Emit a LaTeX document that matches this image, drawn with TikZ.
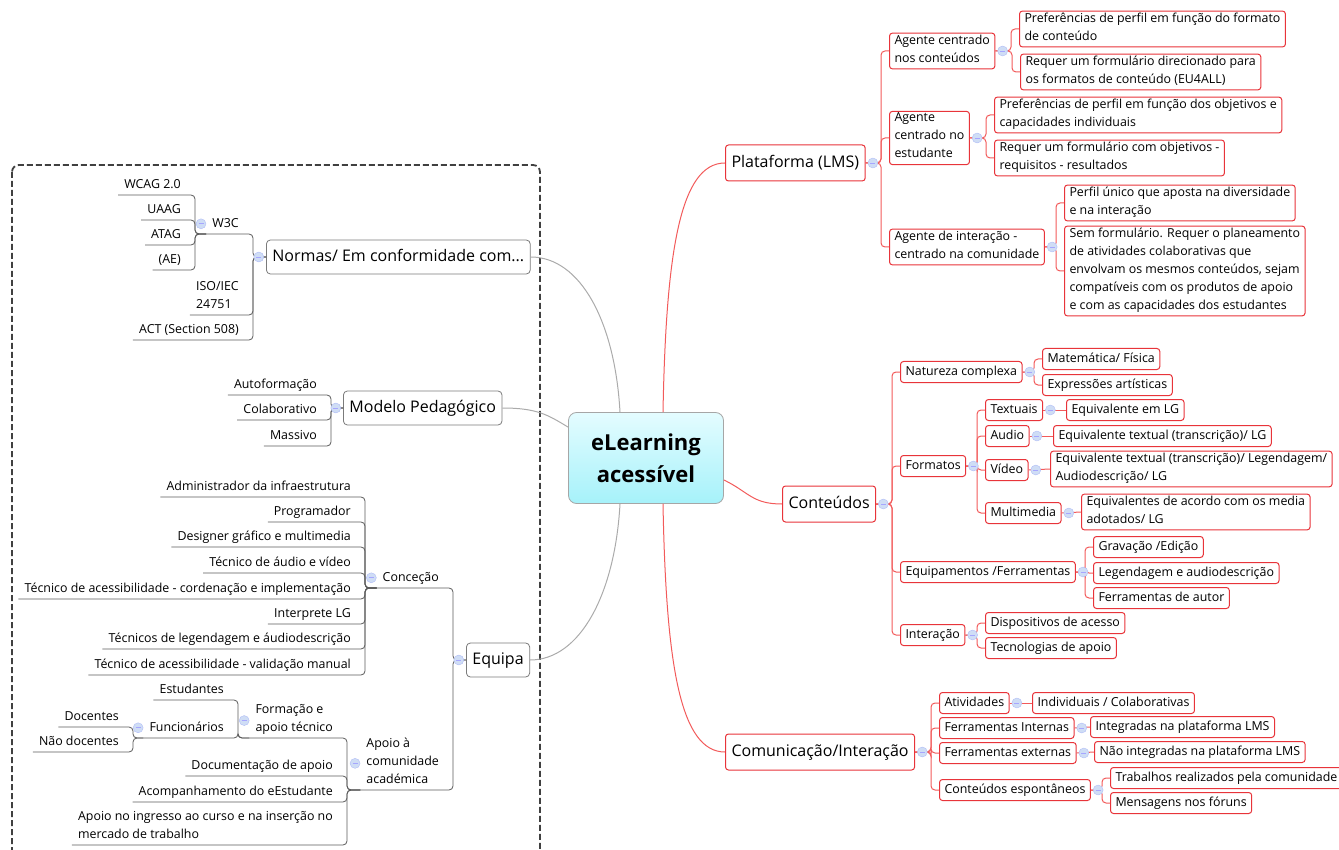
\documentclass[tikz,border=0pt]{standalone}
\usepackage{fontspec}
\setmainfont{Open Sans}
\usetikzlibrary{positioning}
\definecolor{boxred}{HTML}{E8343A}
\definecolor{linkred}{HTML}{F25A5A}
\definecolor{linegray}{HTML}{5A5A5A}
\definecolor{curvegray}{HTML}{ABABAB}
\definecolor{foldblue}{HTML}{CFDDF5}
\definecolor{coretop}{HTML}{E4FCFF}
\definecolor{corebot}{HTML}{A6F2FA}
\tikzset{
  small/.style={font=\fontsize{12.4}{18}\selectfont, execute at begin node=\strut, execute at end node=\strut},
  big/.style={font=\fontsize{16}{24}\selectfont, execute at begin node=\strut, execute at end node=\strut},
  topic/.style={small, draw=boxred, line width=1pt, rounded corners=3pt, fill=white, align=left, inner xsep=5pt, inner ysep=1.5pt, anchor=west},
  maintopic/.style={topic, big, inner xsep=6pt, inner ysep=6pt},
  ltopic/.style={big, draw=linegray!80, line width=0.8pt, rounded corners=4pt, fill=white, inner xsep=6pt, inner ysep=5pt, anchor=west},
  leaf/.style={small, align=left, inner xsep=6pt, inner ysep=1pt, anchor=south east},
  core/.style={draw=gray!70, line width=0.8pt, rounded corners=8pt, top color=coretop, bottom color=corebot, minimum width=155pt, minimum height=91pt, align=center, font=\fontsize{22}{32}\selectfont\bfseries},
  rlink/.style={draw=linkred, line width=1pt, rounded corners=4pt},
  glink/.style={draw=linegray, line width=0.8pt, rounded corners=4pt},
  gcurve/.style={draw=curvegray, line width=1pt},
  rcurve/.style={draw=linkred, line width=1pt},
  fold/.style={circle, fill=foldblue, draw=foldblue!85!blue, line width=0.4pt, minimum size=10pt, inner sep=0pt,
    path picture={\draw[blue!35, line width=0.8pt] ([xshift=-2.5pt]path picture bounding box.center) -- ([xshift=2.5pt]path picture bounding box.center);}},
}

\begin{document}
\begin{tikzpicture}[x=1pt, y=-1pt]
  \useasboundingbox (0,0) rectangle (1339,850);
  \draw[line width=1.8pt, dash pattern=on 6pt off 3pt, black!75, rounded corners=7pt] (12,165) rectangle (540,875);

  \node[core] (elearn) at (646,458) {eLearning\\acessível};

  % left side
  \node[ltopic] (normas) at (266,257) {Normas/ Em conformidade com...};
  \node[leaf] (w3c) at (245,234) {W3C};
  \node[leaf] (wcag) at (187,195) {WCAG 2.0};
  \node[leaf] (uaag) at (187,220) {UAAG};
  \node[leaf] (atag) at (187,245) {ATAG};
  \node[leaf] (ae) at (187,270) {(AE)};
  \node[leaf] (iso) at (245,315) {ISO/IEC\\24751\strut};
  \node[leaf] (act) at (245,340) {ACT (Section 508)};

  \node[ltopic] (modelo) at (343,408) {Modelo Pedagógico};
  \node[leaf] (auto) at (323,395) {Autoformação};
  \node[leaf] (colab) at (323,420) {Colaborativo};
  \node[leaf] (massivo) at (323,446) {Massivo};

  \node[ltopic] (equipa) at (466,660) {Equipa};
  \node[leaf] (concecao) at (445,588) {Conceção};
  \node[leaf] (admin) at (357,497) {Administrador da infraestrutura};
  \node[leaf] (prog) at (357,522) {Programador};
  \node[leaf] (design) at (357,547) {Designer gráfico e multimedia};
  \node[leaf] (tav) at (357,573) {Técnico de áudio e vídeo};
  \node[leaf] (tacess) at (357,599) {Técnico de acessibilidade - cordenação e implementação};
  \node[leaf] (interp) at (357,624) {Interprete LG};
  \node[leaf] (tleg) at (357,649) {Técnicos de legendagem e áudiodescrição};
  \node[leaf] (tval) at (357,675) {Técnico de acessibilidade - validação manual};
  \node[leaf] (apoio) at (445,790) {Apoio à\\comunidade\\académica\strut};
  \node[leaf] (formacao) at (339,738) {Formação e\\apoio técnico\strut};
  \node[leaf] (docap) at (339,776) {Documentação de apoio};
  \node[leaf] (acomp) at (339,802) {Acompanhamento do eEstudante};
  \node[leaf] (ingresso) at (339,845) {Apoio no ingresso ao curso e na inserção no\\mercado de trabalho\strut};
  \node[leaf] (estud) at (230,700) {Estudantes};
  \node[leaf] (func) at (230,738) {Funcionários};
  \node[leaf] (doc) at (125,727) {Docentes};
  \node[leaf] (naodoc) at (125,752) {Não docentes};

  % right side
  \node[maintopic] (plat) at (725,163) {Plataforma (LMS)};
  \node[topic] (agcont) at (889,51) {Agente centrado\\nos conteúdos\strut};
  \node[topic] (agcont1) at (1019,29) {Preferências de perfil em função do formato\\de conteúdo\strut};
  \node[topic] (agcont2) at (1020,72) {Requer um formulário direcionado para\\os formatos de conteúdo (EU4ALL)\strut};
  \node[topic] (agest) at (889,138) {Agente\\centrado no\\estudante\strut};
  \node[topic] (agest1) at (994,115) {Preferências de perfil em função dos objetivos e\\capacidades individuais\strut};
  \node[topic] (agest2) at (994,158) {Requer um formulário com objetivos -\\requisitos - resultados\strut};
  \node[topic] (agint) at (889,247) {Agente de interação -\\centrado na comunidade\strut};
  \node[topic] (agint1) at (1064,203) {Perfil único que aposta na diversidade\\e na interação\strut};
  \node[topic] (agint2) at (1064,271) {Sem formulário. Requer o planeamento\\de atividades colaborativas que\\envolvam os mesmos conteúdos, sejam\\compatíveis com os produtos de apoio\\e com as capacidades dos estudantes\strut};

  \node[maintopic] (cont) at (782,504) {Conteúdos};
  \node[topic] (nat) at (900,372) {Natureza complexa};
  \node[topic] (nat1) at (1042,359) {Matemática/ Física};
  \node[topic] (nat2) at (1042,385) {Expressões artísticas};
  \node[topic] (formatos) at (900,466) {Formatos};
  \node[topic] (txt) at (985,410) {Textuais};
  \node[topic] (txt1) at (1066,410) {Equivalente em LG};
  \node[topic] (aud) at (985,436) {Audio};
  \node[topic] (aud1) at (1053,436) {Equivalente textual (transcrição)/ LG};
  \node[topic] (vid) at (985,470) {Vídeo};
  \node[topic] (vid1) at (1050,469) {Equivalente textual (transcrição)/ Legendagem/\\Audiodescrição/ LG\strut};
  \node[topic] (mm) at (985,513) {Multimedia};
  \node[topic] (mm1) at (1081,512) {Equivalentes de acordo com os media\\adotados/ LG\strut};
  \node[topic] (equip) at (900,572) {Equipamentos /Ferramentas};
  \node[topic] (equip1) at (1093,547) {Gravação /Edição};
  \node[topic] (equip2) at (1093,573) {Legendagem e audiodescrição};
  \node[topic] (equip3) at (1093,598) {Ferramentas de autor};
  \node[topic] (inter) at (900,635) {Interação};
  \node[topic] (inter1) at (985,623) {Dispositivos de acesso};
  \node[topic] (inter2) at (985,648) {Tecnologias de apoio};

  \node[maintopic] (com) at (725,752) {Comunicação/Interação};
  \node[topic] (ativ) at (939,703) {Atividades};
  \node[topic] (ativ1) at (1032,703) {Individuais / Colaborativas};
  \node[topic] (fint) at (939,728) {Ferramentas Internas};
  \node[topic] (fint1) at (1090,727) {Integradas na plataforma LMS};
  \node[topic] (fext) at (939,753) {Ferramentas externas};
  \node[topic] (fext1) at (1094,752) {Não integradas na plataforma LMS};
  \node[topic] (esp) at (939,790) {Conteúdos espontâneos};
  \node[topic] (esp1) at (1110,778) {Trabalhos realizados pela comunidade};
  \node[topic] (esp2) at (1110,803) {Mensagens nos fóruns};

  % main branches
  \draw[gcurve] (normas.east) .. controls +(50,0) and +(-5,-90) .. ([xshift=-26pt]elearn.north);
  \draw[gcurve] (modelo.east) .. controls +(35,0) and +(-20,-12) .. ([yshift=-15pt]elearn.north west);
  \draw[gcurve] (equipa.east) .. controls +(50,0) and +(-5,90) .. ([xshift=-26pt]elearn.south);
  \draw[rcurve] ([xshift=17pt]elearn.north) .. controls +(3,-160) and +(-45,0) .. (plat.west);
  \draw[rcurve] ([yshift=-22pt]elearn.east) .. controls +(25,12) and +(-30,0) .. (cont.west);
  \draw[rcurve] ([xshift=17pt]elearn.south) .. controls +(3,160) and +(-45,0) .. (com.west);

  % left links
  \draw[glink] (wcag.south west) -- ([xshift=8pt]wcag.south east) |- (w3c.south west);
  \draw[glink] (uaag.south west) -- ([xshift=8pt]uaag.south east) |- (w3c.south west);
  \draw[glink] (atag.south west) -- ([xshift=8pt]atag.south east) |- (w3c.south west);
  \draw[glink] (ae.south west) -- ([xshift=8pt]ae.south east) |- (w3c.south west);
  \draw[glink] (w3c.south west) -- ([xshift=8pt]w3c.south east) |- (normas.west);
  \draw[glink] (iso.south west) -- ([xshift=8pt]iso.south east) |- (normas.west);
  \draw[glink] (act.south west) -- ([xshift=8pt]act.south east) |- (normas.west);
  \draw[glink] (auto.south west) -- ([xshift=8pt]auto.south east) |- (modelo.west);
  \draw[glink] (colab.south west) -- ([xshift=8pt]colab.south east) |- (modelo.west);
  \draw[glink] (massivo.south west) -- ([xshift=8pt]massivo.south east) |- (modelo.west);
  \draw[glink] (concecao.south west) -- ([xshift=8pt]concecao.south east) |- (equipa.west);
  \draw[glink] (apoio.south west) -- ([xshift=8pt]apoio.south east) |- (equipa.west);
  \draw[glink] (admin.south west) -- ([xshift=8pt]admin.south east) |- (concecao.south west);
  \draw[glink] (prog.south west) -- ([xshift=8pt]prog.south east) |- (concecao.south west);
  \draw[glink] (design.south west) -- ([xshift=8pt]design.south east) |- (concecao.south west);
  \draw[glink] (tav.south west) -- ([xshift=8pt]tav.south east) |- (concecao.south west);
  \draw[glink] (tacess.south west) -- ([xshift=8pt]tacess.south east) |- (concecao.south west);
  \draw[glink] (interp.south west) -- ([xshift=8pt]interp.south east) |- (concecao.south west);
  \draw[glink] (tleg.south west) -- ([xshift=8pt]tleg.south east) |- (concecao.south west);
  \draw[glink] (tval.south west) -- ([xshift=8pt]tval.south east) |- (concecao.south west);
  \draw[glink] (formacao.south west) -- ([xshift=8pt]formacao.south east) |- (apoio.south west);
  \draw[glink] (docap.south west) -- ([xshift=8pt]docap.south east) |- (apoio.south west);
  \draw[glink] (acomp.south west) -- ([xshift=8pt]acomp.south east) |- (apoio.south west);
  \draw[glink] (ingresso.south west) -- ([xshift=8pt]ingresso.south east) |- (apoio.south west);
  \draw[glink] (estud.south west) -- ([xshift=8pt]estud.south east) |- (formacao.south west);
  \draw[glink] (func.south west) -- ([xshift=8pt]func.south east) |- (formacao.south west);
  \draw[glink] (doc.south west) -- ([xshift=8pt]doc.south east) |- (func.south west);
  \draw[glink] (naodoc.south west) -- ([xshift=8pt]naodoc.south east) |- (func.south west);

  % right links
  \draw[rlink] (plat.east) -| ([xshift=-8pt]agcont.west) -- (agcont.west);
  \draw[rlink] (plat.east) -| ([xshift=-8pt]agest.west) -- (agest.west);
  \draw[rlink] (plat.east) -| ([xshift=-8pt]agint.west) -- (agint.west);
  \draw[rlink] (agcont.east) -| ([xshift=-8pt]agcont1.west) -- (agcont1.west);
  \draw[rlink] (agcont.east) -| ([xshift=-8pt]agcont2.west) -- (agcont2.west);
  \draw[rlink] (agest.east) -| ([xshift=-8pt]agest1.west) -- (agest1.west);
  \draw[rlink] (agest.east) -| ([xshift=-8pt]agest2.west) -- (agest2.west);
  \draw[rlink] (agint.east) -| ([xshift=-8pt]agint1.west) -- (agint1.west);
  \draw[rlink] (agint.east) -| ([xshift=-8pt]agint2.west) -- (agint2.west);
  \draw[rlink] (cont.east) -| ([xshift=-8pt]nat.west) -- (nat.west);
  \draw[rlink] (cont.east) -| ([xshift=-8pt]formatos.west) -- (formatos.west);
  \draw[rlink] (cont.east) -| ([xshift=-8pt]equip.west) -- (equip.west);
  \draw[rlink] (cont.east) -| ([xshift=-8pt]inter.west) -- (inter.west);
  \draw[rlink] (nat.east) -| ([xshift=-8pt]nat1.west) -- (nat1.west);
  \draw[rlink] (nat.east) -| ([xshift=-8pt]nat2.west) -- (nat2.west);
  \draw[rlink] (formatos.east) -| ([xshift=-8pt]txt.west) -- (txt.west);
  \draw[rlink] (formatos.east) -| ([xshift=-8pt]aud.west) -- (aud.west);
  \draw[rlink] (formatos.east) -| ([xshift=-8pt]vid.west) -- (vid.west);
  \draw[rlink] (formatos.east) -| ([xshift=-8pt]mm.west) -- (mm.west);
  \draw[rlink] (txt.east) -- (txt1.west);
  \draw[rlink] (aud.east) -- (aud1.west);
  \draw[rlink] (vid.east) -- (vid1.west);
  \draw[rlink] (mm.east) -- (mm1.west);
  \draw[rlink] (equip.east) -| ([xshift=-8pt]equip1.west) -- (equip1.west);
  \draw[rlink] (equip.east) -| ([xshift=-8pt]equip2.west) -- (equip2.west);
  \draw[rlink] (equip.east) -| ([xshift=-8pt]equip3.west) -- (equip3.west);
  \draw[rlink] (inter.east) -| ([xshift=-8pt]inter1.west) -- (inter1.west);
  \draw[rlink] (inter.east) -| ([xshift=-8pt]inter2.west) -- (inter2.west);
  \draw[rlink] (com.east) -| ([xshift=-8pt]ativ.west) -- (ativ.west);
  \draw[rlink] (com.east) -| ([xshift=-8pt]fint.west) -- (fint.west);
  \draw[rlink] (com.east) -| ([xshift=-8pt]fext.west) -- (fext.west);
  \draw[rlink] (com.east) -| ([xshift=-8pt]esp.west) -- (esp.west);
  \draw[rlink] (ativ.east) -- (ativ1.west);
  \draw[rlink] (fint.east) -- (fint1.west);
  \draw[rlink] (fext.east) -- (fext1.west);
  \draw[rlink] (esp.east) -| ([xshift=-8pt]esp1.west) -- (esp1.west);
  \draw[rlink] (esp.east) -| ([xshift=-8pt]esp2.west) -- (esp2.west);

  % fold buttons
  \node[fold, left=2pt of normas] (normas-f) {};
  \node[fold, left=2pt of modelo] (modelo-f) {};
  \node[fold, left=2pt of equipa] (equipa-f) {};
  \node[fold, left=0pt of w3c] (w3c-f) {};
  \node[fold, left=0pt of concecao] (concecao-f) {};
  \node[fold, left=0pt of apoio] (apoio-f) {};
  \node[fold, left=0pt of formacao] (formacao-f) {};
  \node[fold, left=0pt of func] (func-f) {};
  \node[fold, right=2pt of plat] (plat-f) {};
  \node[fold, right=2pt of agcont] (agcont-f) {};
  \node[fold, right=2pt of agest] (agest-f) {};
  \node[fold, right=2pt of agint] (agint-f) {};
  \node[fold, right=2pt of cont] (cont-f) {};
  \node[fold, right=2pt of nat] (nat-f) {};
  \node[fold, right=2pt of formatos] (formatos-f) {};
  \node[fold, right=2pt of txt] (txt-f) {};
  \node[fold, right=2pt of aud] (aud-f) {};
  \node[fold, right=2pt of vid] (vid-f) {};
  \node[fold, right=2pt of mm] (mm-f) {};
  \node[fold, right=2pt of equip] (equip-f) {};
  \node[fold, right=2pt of inter] (inter-f) {};
  \node[fold, right=2pt of com] (com-f) {};
  \node[fold, right=2pt of ativ] (ativ-f) {};
  \node[fold, right=2pt of fint] (fint-f) {};
  \node[fold, right=2pt of fext] (fext-f) {};
  \node[fold, right=2pt of esp] (esp-f) {};
\end{tikzpicture}
\end{document}
